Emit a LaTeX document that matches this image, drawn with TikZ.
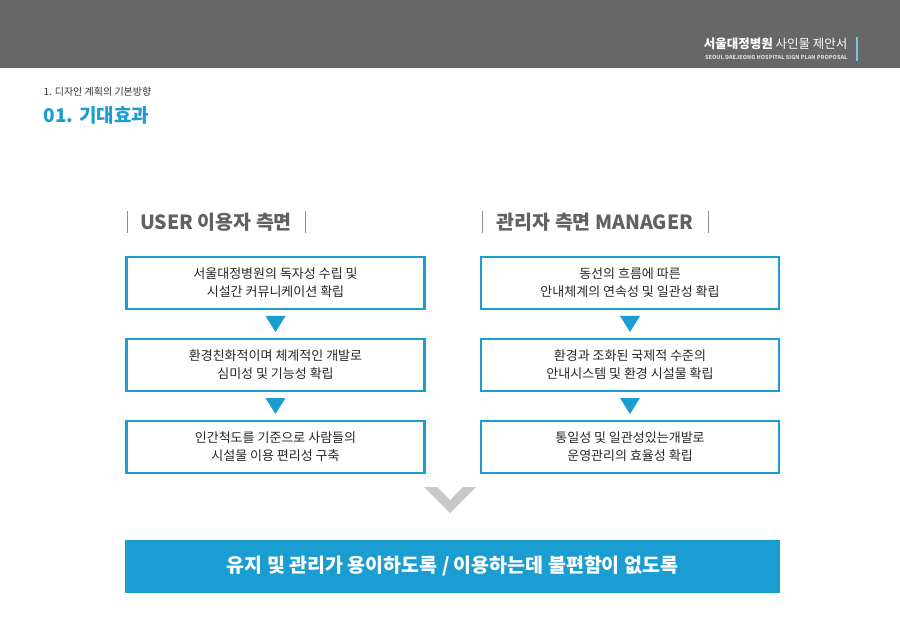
\documentclass[tikz,border=0pt]{standalone}
\usepackage{fontspec}
\setmainfont{Noto Sans CJK KR}
\definecolor{bl}{HTML}{1A9DD0}
\definecolor{hd}{HTML}{676767}
\begin{document}
\begin{tikzpicture}[x=1pt,y=-1pt,
 box/.style={draw=bl,line width=2.5pt,minimum width=298pt,minimum height=52pt,align=center,font=\fontsize{13}{18}\selectfont,text=black!85},
 tri/.style={fill=bl},
 hdr/.style={font=\fontsize{19.5}{22}\selectfont\bfseries,text=black!62},
 sep/.style={draw=black!45,line width=0.8pt}]
\useasboundingbox (0,0) rectangle (900,636);
\fill[hd] (0,0) rectangle (900,68);
\node[anchor=east,text=white,font=\fontsize{12.5}{14}\selectfont] (ht) at (851,44) {{\bfseries 서울대정병원} 사인물 제안서};
\node[anchor=east,text=white!85!black,font=\fontsize{5.5}{6}\selectfont\bfseries] (hs) at (851,57.5) {SEOUL DAEJEONG HOSPITAL SIGN PLAN PROPOSAL};
\fill[bl!60] (856,37) rectangle (858,61);
\node[anchor=west,font=\fontsize{10}{11}\selectfont,text=black!80] (t1) at (40,92) {1. 디자인 계획의 기본방향};
\node[anchor=west,font=\fontsize{19}{20}\selectfont\bfseries,text=bl] (t2) at (40,115) {01. 기대효과};
% headers
\node[hdr] (hu) at (216,222) {USER 이용자 측면};
\draw[sep] (127,211) -- (127,233); \draw[sep] (305,211) -- (305,233);
\node[hdr] (hm) at (595,222) {관리자 측면 MANAGER};
\draw[sep] (482,211) -- (482,233); \draw[sep] (708,211) -- (708,233);
% boxes
\node[box] (a1) at (275.5,283) {서울대정병원의 독자성 수립 및\\시설간 커뮤니케이션 확립};
\node[box] (a2) at (275.5,365) {환경친화적이며 체계적인 개발로\\심미성 및 기능성 확립};
\node[box] (a3) at (275.5,447) {인간척도를 기준으로 사람들의\\시설물 이용 편리성 구축};
\node[box] (b1) at (630,283) {동선의 흐름에 따른\\안내체계의 연속성 및 일관성 확립};
\node[box] (b2) at (630,365) {환경과 조화된 국제적 수준의\\안내시스템 및 환경 시설물 확립};
\node[box] (b3) at (630,447) {통일성 및 일관성있는개발로\\운영관리의 효율성 확립};
\foreach \x in {275.5,630}{\foreach \y in {316,398}{
 \fill[tri] (\x-10,\y) -- (\x+10,\y) -- (\x,\y+16) -- cycle;}}
% chevron
\fill[black!22] (424,487) -- (437,487) -- (450,500) -- (463,487) -- (476,487) -- (450,513) -- cycle;
\node[fill=bl,minimum width=655pt,minimum height=53pt,text=white,font=\fontsize{19.5}{22}\selectfont\bfseries] (bot) at (452.5,566) {유지 및 관리가 용이하도록 / 이용하는데 불편함이 없도록};
\end{tikzpicture}
\end{document}
